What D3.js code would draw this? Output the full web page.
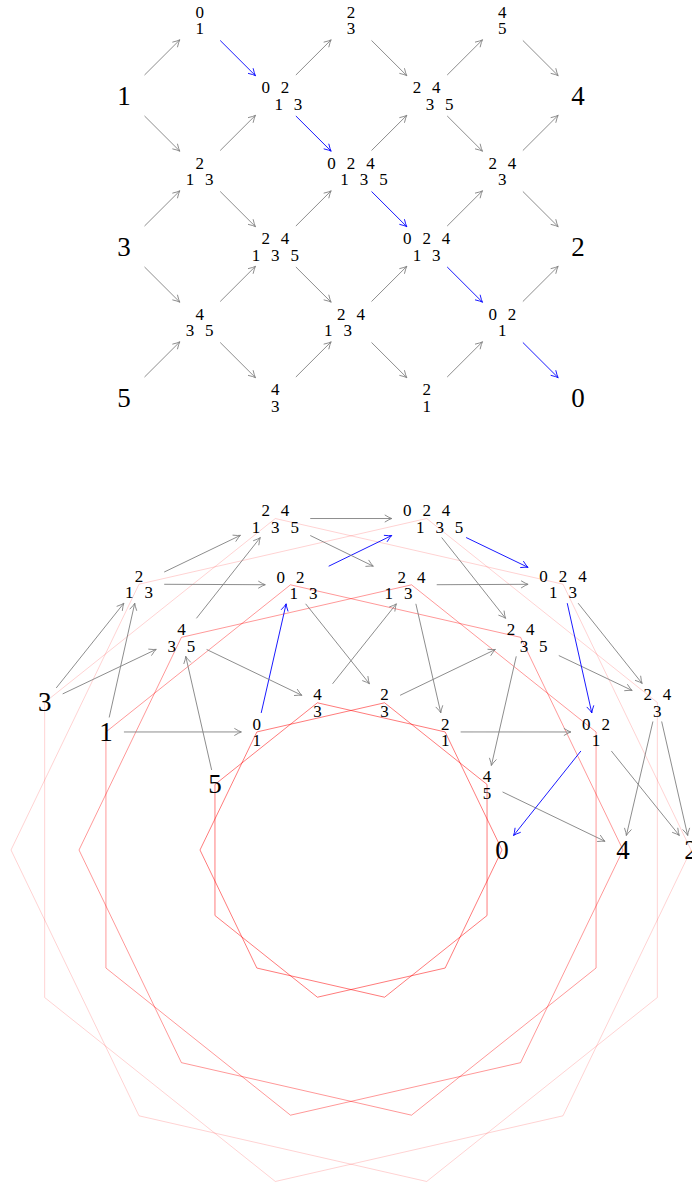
<!DOCTYPE html>
<html><head><meta charset="utf-8">
<script src="https://cdn.jsdelivr.net/npm/d3@7"></script>
<style>html,body{margin:0;padding:0;background:#fff;overflow:hidden}</style>
</head><body>
<svg id="chart" width="692" height="1184"></svg>
<script>
// ---------- data ----------
const nodeIds   = ["c0r1","c0r3","c0r5","c1r0","c1r2","c1r4","c2r1","c2r3","c2r5","c3r0","c3r2","c3r4","c4r1","c4r3","c4r5","c5r0","c5r2","c5r4","c6r1","c6r3","c6r5"];
const nodeCols  = [0,0,0,1,1,1,2,2,2,3,3,3,4,4,4,5,5,5,6,6,6];
const nodeRows  = [1,3,5,0,2,4,1,3,5,0,2,4,1,3,5,0,2,4,1,3,5];
const topRows   = ["1","3","5","0","2","4","0 2","2 4","4","2","0 2 4","2 4","2 4","0 2 4","2","4","2 4","0 2","4","2","0"];
const bottomRows= ["","","","1","1 3","3 5","1 3","1 3 5","3","3","1 3 5","1 3","3 5","1 3","1","5","3","1","","",""];
const edges = [
  ["c0r1","c1r0"],["c0r1","c1r2"],["c0r3","c1r2"],["c0r3","c1r4"],["c0r5","c1r4"],
  ["c1r0","c2r1"],["c1r2","c2r1"],["c1r2","c2r3"],["c1r4","c2r3"],["c1r4","c2r5"],
  ["c2r1","c3r0"],["c2r1","c3r2"],["c2r3","c3r2"],["c2r3","c3r4"],["c2r5","c3r4"],
  ["c3r0","c4r1"],["c3r2","c4r1"],["c3r2","c4r3"],["c3r4","c4r3"],["c3r4","c4r5"],
  ["c4r1","c5r0"],["c4r1","c5r2"],["c4r3","c5r2"],["c4r3","c5r4"],["c4r5","c5r4"],
  ["c5r0","c6r1"],["c5r2","c6r1"],["c5r2","c6r3"],["c5r4","c6r3"],["c5r4","c6r5"]
];
const highlightPath = ["c1r0","c2r1","c3r2","c4r3","c5r4","c6r5"];
const ringIndex   = [0,1,2];           // inner, middle, outer
const ringRadius  = [151,272,340];
const ringOpacity = [0.58,0.45,0.2];
const ringSlots = 14;

// ---------- scales ----------
const svg = d3.select("#chart");
const gx = d3.scaleLinear().domain([0,6]).range([124,578]);
const gy = d3.scaleLinear().domain([0,5]).range([20,397.5]);
const CX = 351, CY = 850;
const rScale = d3.scaleOrdinal().domain(ringIndex).range(ringRadius);
const angle = d3.scaleLinear().domain([0,ringSlots]).range([0,2*Math.PI]);
function ringPoint(ring,k){ const r=rScale(ring), a=angle(k); return [CX + r*Math.cos(a), CY - r*Math.sin(a)]; }

const nodes = nodeIds.map((id,i)=>{
  const top = topRows[i].split(" ").map(Number);
  const bot = bottomRows[i] ? bottomRows[i].split(" ").map(Number) : [];
  const col=nodeCols[i], row=nodeRows[i];
  const ring = Math.min(row, 5-row), k = 6-col;
  return {id, col, row, top, bot, big: bot.length===0,
    grid:[gx(col), gy(row)], circ: ringPoint(ring,k)};
});
const byId = new Map(nodes.map(n=>[n.id,n]));
const isHi = (a,b)=>{ const i=highlightPath.indexOf(a); return i>=0 && highlightPath[i+1]===b; };

// ---------- label layout ----------
const SP = 19.4;
function digitLayout(n){
  if(n.big) return [{d:n.top[0], x:0, y:0, big:true}];
  const out=[];
  n.top.forEach((d,i)=>out.push({d, x:(i-(n.top.length-1)/2)*SP, y:-8}));
  let shift=0;
  if(n.top.length===n.bot.length && n.top.length>=2) shift = n.bot[0]>n.top[0] ? 13 : -13;
  n.bot.forEach((d,i)=>out.push({d, x:(i-(n.bot.length-1)/2)*SP+shift, y:8.5}));
  return out;
}
function nodeBox(n){
  if(n.big) return {x0:-7, x1:7, y0:-9.5, y1:9.5};
  const L=digitLayout(n);
  return {x0:d3.min(L,l=>l.x)-4.5, x1:d3.max(L,l=>l.x)+4.5, y0:-14, y1:14};
}

// ---------- drawing helpers ----------
function arrowHead(g, tip, ux, uy, color){
  const nx=-uy, ny=ux, L=7, W=3.6;
  const p = `M${tip[0]-L*ux+W*nx},${tip[1]-L*uy+W*ny} Q${tip[0]-2.2*ux+0.6*nx},${tip[1]-2.2*uy+0.6*ny} ${tip[0]},${tip[1]} Q${tip[0]-2.2*ux-0.6*nx},${tip[1]-2.2*uy-0.6*ny} ${tip[0]-L*ux-W*nx},${tip[1]-L*uy-W*ny}`;
  g.append("path").attr("d",p).attr("fill","none").attr("stroke",color).attr("stroke-width",0.9);
}
function boxExit(n, ux, uy, px, py){
  const b=nodeBox(n);
  const hx = ux>0 ? b.x1+px : -(b.x0-px);
  const hy = uy>0 ? b.y1+py : -(b.y0-py);
  const tx = Math.abs(ux)>1e-6 ? hx/Math.abs(ux) : Infinity;
  const ty = Math.abs(uy)>1e-6 ? hy/Math.abs(uy) : Infinity;
  return Math.min(tx,ty);
}
function drawEdges(g, posKey, shortenFn){
  edges.forEach(([a,b])=>{
    const A=byId.get(a), B=byId.get(b);
    const p=A[posKey], q=B[posKey];
    const dx=q[0]-p[0], dy=q[1]-p[1], len=Math.hypot(dx,dy), ux=dx/len, uy=dy/len;
    const [s0,s1]=shortenFn(A,B,ux,uy);
    const st=[p[0]+ux*s0, p[1]+uy*s0], en=[q[0]-ux*s1, q[1]-uy*s1];
    const color = isHi(a,b) ? "rgb(0,0,255)" : "rgb(128,128,128)";
    g.append("line").attr("x1",st[0]).attr("y1",st[1]).attr("x2",en[0]).attr("y2",en[1])
      .attr("stroke",color).attr("stroke-width",0.9);
    arrowHead(g, en, ux, uy, color);
  });
}
function drawLabels(g, posKey){
  nodes.forEach(n=>{
    const [x,y]=n[posKey];
    const t = g.append("text").attr("text-anchor","middle")
      .attr("font-family","'Liberation Serif','DejaVu Serif',serif")
      .attr("font-size", n.big?27:17).attr("fill","#000");
    digitLayout(n).forEach(l=>{
      t.append("tspan").attr("x",x+l.x).attr("y",y+l.y+(l.big?9:5.7)).text(l.d);
    });
  });
}

// ---------- top: lattice ----------
const gTop = svg.append("g");
drawEdges(gTop, "grid", ()=>[29,28]);
drawLabels(gTop, "grid");

// ---------- bottom: rings ----------
const gBot = svg.append("g");
const line = d3.line();
ringIndex.forEach(ring=>{
  [0,1].forEach(par=>{
    const pts = d3.range(par, ringSlots, 2).map(k=>ringPoint(ring,k));
    gBot.append("path").attr("d", line(pts)+"Z").attr("fill","none")
      .attr("stroke","rgb(255,0,0)").attr("stroke-opacity", ringOpacity[ring]).attr("stroke-width",0.9);
  });
});
drawEdges(gBot, "circ", (A,B,ux,uy)=>[boxExit(A,ux,uy,11,5), boxExit(B,-ux,-uy,11,5)]);
drawLabels(gBot, "circ");
</script>
</body></html>
